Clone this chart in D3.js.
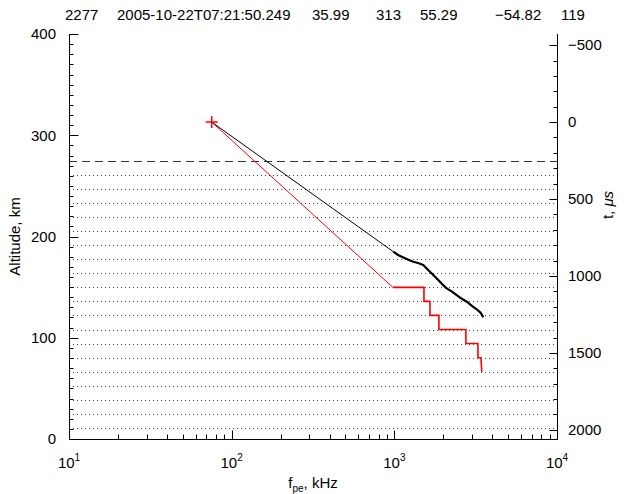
<!DOCTYPE html>
<html><head><meta charset="utf-8">
<script src="https://cdn.jsdelivr.net/npm/d3@7"></script>
<style>
body{margin:0;background:#fff;}
svg{display:block;font-family:"Liberation Sans",Arial,sans-serif;}
</style></head>
<body><div id="chart"></div>
<script>
// ---- data ----
const titleFields = ["2277", "2005-10-22T07:21:50.249", "35.99", "313", "55.29", "\u221254.82", "119"];
const spacecraftAltitude = 313;      // km
const spacecraftFreq = 75.4;         // kHz (marker)
const kmPerMicrosecond = 0.152;      // delay -> apparent range
const altTicks = [0, 100, 200, 300, 400];
const timeTicks = [-500, 0, 500, 1000, 1500, 2000];
const freqTicks = [10, 100, 1000, 10000];
const freqTickExp = ["1", "2", "3", "4"];
const dashedDelay = 251;             // µs
const dottedDelays = [342, 434, 525, 617, 708, 799, 891, 982, 1074, 1165, 1256, 1348, 1439, 1531, 1622, 1713, 1805, 1896, 1988];
// red trace: frequency (kHz) vs delay (µs)
const redFreq  = [75.4, 980, 1521, 1521, 1656, 1656, 1880, 1880, 2754, 2754, 3265, 3265, 3406, 3450];
const redDelay = [0, 1074, 1074, 1165, 1165, 1256, 1256, 1348, 1348, 1439, 1439, 1531, 1531, 1622];
// black profile: frequency (kHz) vs altitude (km)
const blackFreq = [75.4, 985, 1060, 1163, 1240, 1308, 1400, 1507, 1580, 1656, 1760, 1862, 1980, 2098, 2250, 2418, 2600, 2786, 3000, 3208, 3400, 3522];
const blackAlt  = [313, 185.0, 181.5, 178.5, 176.5, 175.1, 173.8, 171.9, 168.5, 165.2, 161.0, 157.0, 152.5, 148.8, 145.8, 142.2, 138.5, 135.6, 131.5, 128.1, 124.5, 120.2];

// ---- layout ----
const W = 626, H = 494;
const L = 69, R = 557, T = 34, B = 439;

const svg = d3.select("#chart").append("svg").attr("width", W).attr("height", H);

const x = d3.scaleLog().domain([10, 10000]).range([L, R]);
const y = d3.scaleLinear().domain([0, 400]).range([B, T]);
const tS = d3.scaleLinear()
  .domain([(spacecraftAltitude - 0) / kmPerMicrosecond, (spacecraftAltitude - 400) / kmPerMicrosecond])
  .range([B, T]);

const px = v => Math.round(v) + 0.5;

// ---- title ----
const titleX = [65, 117, 312, 376, 420, 495, 561];
svg.append("g").selectAll("text").data(titleFields).join("text")
  .attr("x", (d, i) => titleX[i]).attr("y", 20)
  .attr("font-size", 15).attr("fill", "#000").text(d => d);

// ---- reference lines ----
svg.append("line")
  .attr("x1", L).attr("x2", R).attr("y1", px(tS(dashedDelay))).attr("y2", px(tS(dashedDelay)))
  .attr("stroke", "#333").attr("stroke-width", 1).attr("stroke-dasharray", "8,5");
svg.append("g").selectAll("line").data(dottedDelays).join("line")
  .attr("x1", L).attr("x2", R).attr("y1", d => px(tS(d))).attr("y2", d => px(tS(d)))
  .attr("stroke", "#444").attr("stroke-width", 1).attr("stroke-dasharray", "1,3");

// ---- axes: frame + ticks as one path built from the scales ----
const altMinor = d3.range(0, 401, 10);
const timeMinor = d3.range(-500, 2001, 100);
const minorFreq = [];
[10, 100, 1000].forEach(dec => { for (let k = 2; k <= 9; k++) minorFreq.push(dec * k); });

let dPath = `M${px(L)},${T}V${px(B)}H${px(R)}V${T}`;
altMinor.forEach(v => { dPath += `M${px(L)},${px(y(v))}h4`; });
altTicks.forEach(v => { dPath += `M${px(L)},${px(y(v))}h9`; });
timeMinor.forEach(v => { dPath += `M${px(R)},${px(tS(v))}h-4`; });
timeTicks.forEach(v => { dPath += `M${px(R)},${px(tS(v))}h-8`; });
minorFreq.forEach(v => { dPath += `M${px(x(v))},${px(B)}v-5`; });
freqTicks.forEach(v => { dPath += `M${px(x(v))},${px(B)}v-9`; });
svg.append("path").attr("d", dPath).attr("fill", "none").attr("stroke", "#000").attr("stroke-width", 1);

// tick labels
svg.append("g").selectAll("text").data(altTicks).join("text")
  .attr("x", L - 13).attr("y", d => y(d)).attr("dy", "0.35em")
  .attr("text-anchor", "end").attr("font-size", 15).attr("fill", "#000").text(d => d);
const tf = d3.format("d");
svg.append("g").selectAll("text").data(timeTicks).join("text")
  .attr("x", R + 11).attr("y", d => tS(d)).attr("dy", "0.35em")
  .attr("font-size", 15).attr("fill", "#000").text(d => tf(d).replace("-", "\u2212"));

const bl = svg.append("g").selectAll("text").data(freqTicks).join("text")
  .attr("x", d => x(d)).attr("y", B + 29).attr("text-anchor", "middle").attr("font-size", 15).attr("fill", "#000");
bl.append("tspan").text("10");
bl.append("tspan").attr("font-size", 10).attr("dy", -7).text((d, i) => freqTickExp[i]);

// axis titles
svg.append("text").attr("transform", `translate(20,${(T + B) / 2}) rotate(-90)`)
  .attr("text-anchor", "middle").attr("font-size", 15).attr("fill", "#000").text("Altitude, km");
const tt = svg.append("text").attr("transform", `translate(613,205) rotate(-90)`)
  .attr("text-anchor", "middle").attr("font-size", 15).attr("fill", "#000");
tt.append("tspan").text("t, ");
tt.append("tspan").attr("font-style", "italic").text("\u03bcs");
const xl = svg.append("text").attr("x", 313).attr("y", 488).attr("text-anchor", "middle").attr("font-size", 15).attr("fill", "#000");
xl.append("tspan").text("f");
xl.append("tspan").attr("font-size", 10).attr("dy", 4).text("pe");
xl.append("tspan").attr("dy", -4).text(", kHz");

// ---- curves ----
const redPts = redFreq.map((f, i) => [x(f), tS(redDelay[i])]);
svg.append("path").attr("d", d3.line()(redPts.slice(0, 2)))
  .attr("fill", "none").attr("stroke", "#ff0000").attr("stroke-width", 1);
svg.append("path").attr("d", d3.line()(redPts.slice(1)))
  .attr("fill", "none").attr("stroke", "#ff0000").attr("stroke-width", 1.6);

const blkPts = blackFreq.map((f, i) => [x(f), y(blackAlt[i])]);
svg.append("path").attr("d", d3.line()(blkPts.slice(0, 2)))
  .attr("fill", "none").attr("stroke", "#000").attr("stroke-width", 1);
svg.append("path").attr("d", d3.line()(blkPts.slice(1)))
  .attr("fill", "none").attr("stroke", "#000").attr("stroke-width", 2.2).attr("stroke-linejoin", "round");

// spacecraft marker
const mx = x(spacecraftFreq), my = y(spacecraftAltitude);
svg.append("path").attr("d", `M${mx - 6},${my}H${mx + 6}M${mx},${my - 6}V${my + 6}`)
  .attr("stroke", "#ff0000").attr("stroke-width", 1.5).attr("fill", "none");
</script></body></html>
